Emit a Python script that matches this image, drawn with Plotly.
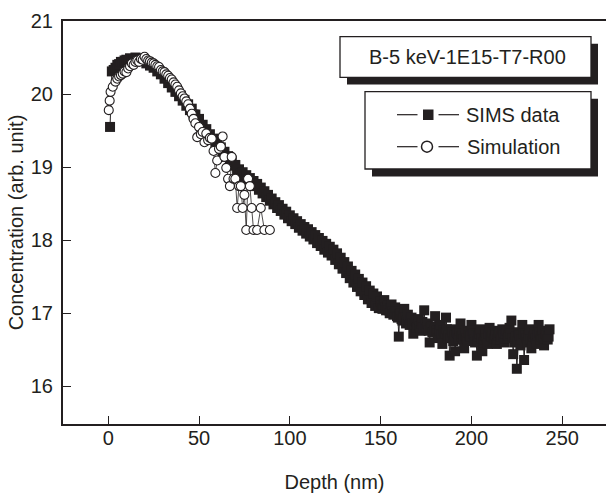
import plotly.graph_objects as go

W, H = 606, 499
ML, MR, MT, MB = 63, 0, 21, 75
INK = "#231f20"
FONT = "Liberation Sans, Arial, Helvetica, sans-serif"

# ---------------- data ----------------
# SIMS profile sampled every 1 nm from 1 nm to 243 nm
sims_depth = list(range(1, 244))
sims_conc = [
    19.55, 20.31, 20.33, 20.36, 20.40, 20.41, 20.44, 20.44, 20.46, 20.47,   # 1-10
    20.46, 20.49, 20.48, 20.48, 20.50, 20.49, 20.48, 20.47, 20.47, 20.46,   # 11-20
    20.42, 20.44, 20.39, 20.40, 20.36, 20.37, 20.31, 20.32, 20.27, 20.28,   # 21-30
    20.21, 20.22, 20.15, 20.16, 20.09, 20.10, 20.03, 20.04, 19.97, 19.98,   # 31-40
    19.91, 19.92, 19.84, 19.86, 19.78, 19.80, 19.72, 19.72, 19.64, 19.66,   # 41-50
    19.57, 19.58, 19.50, 19.52, 19.44, 19.45, 19.38, 19.39, 19.32, 19.33,   # 51-60
    19.26, 19.27, 19.19, 19.21, 19.14, 19.15, 19.07, 19.09, 19.02, 19.03,   # 61-70
    18.95, 18.97, 18.91, 18.93, 18.86, 18.89, 18.83, 18.85, 18.78, 18.81,   # 71-80
    18.74, 18.77, 18.69, 18.72, 18.64, 18.67, 18.59, 18.62, 18.54, 18.57,   # 81-90
    18.49, 18.52, 18.44, 18.48, 18.40, 18.43, 18.35, 18.39, 18.30, 18.34,   # 91-100
    18.26, 18.30, 18.22, 18.26, 18.17, 18.22, 18.13, 18.18, 18.09, 18.15,   # 101-110
    18.05, 18.11, 18.01, 18.07, 17.96, 18.03, 17.92, 17.99, 17.87, 17.95,   # 111-120
    17.83, 17.91, 17.79, 17.87, 17.73, 17.82, 17.67, 17.76, 17.61, 17.70,   # 121-130
    17.55, 17.64, 17.48, 17.58, 17.42, 17.53, 17.36, 17.47, 17.30, 17.42,   # 131-140
    17.25, 17.37, 17.19, 17.31, 17.14, 17.27, 17.10, 17.23, 17.07, 17.16,   # 141-150
    17.06, 17.18, 17.04, 17.10, 17.00, 17.12, 16.98, 17.08, 16.96, 16.68,   # 151-160
    17.00, 16.90, 17.06, 16.86, 16.98, 16.84, 16.94, 16.72, 16.90, 16.80,   # 161-170
    16.92, 16.76, 16.88, 17.04, 16.78, 16.86, 16.60, 16.82, 16.74, 16.96,   # 171-180
    16.76, 16.66, 16.84, 16.58, 16.74, 16.94, 16.66, 16.42, 16.78, 16.62,   # 181-190
    16.48, 16.74, 16.66, 16.86, 16.72, 16.52, 16.76, 16.62, 16.70, 16.84,   # 191-200
    16.72, 16.60, 16.42, 16.68, 16.78, 16.48, 16.64, 16.74, 16.58, 16.80,   # 201-210
    16.68, 16.62, 16.76, 16.58, 16.70, 16.64, 16.78, 16.60, 16.72, 16.66,   # 211-220
    16.80, 16.90, 16.44, 16.66, 16.24, 16.74, 16.56, 16.84, 16.36, 16.70,   # 221-230
    16.60, 16.78, 16.52, 16.68, 16.74, 16.58, 16.84, 16.64, 16.76, 16.56,   # 231-240
    16.72, 16.64, 16.78,                                                    # 241-243
]
# extra SIMS samples at half-nm depths in the background region (150.5-242.5 nm)
sims_depth_half = [150.5 + i for i in range(93)]
sims_conc_half = [
    17.10, 17.12, 17.08, 17.06, 17.04, 17.06, 17.02, 17.00, 17.02, 16.94,   # 150.5-159.5
    16.98, 16.92, 16.96, 16.94, 16.90, 16.88, 16.92, 16.86, 16.84, 16.88,   # 160.5-169.5
    16.84, 16.82, 16.86, 16.80, 16.84, 16.80, 16.76, 16.80, 16.74, 16.78,   # 170.5-179.5
    16.80, 16.72, 16.76, 16.70, 16.76, 16.72, 16.78, 16.70, 16.66, 16.74,   # 180.5-189.5
    16.70, 16.64, 16.72, 16.76, 16.68, 16.64, 16.70, 16.66, 16.74, 16.68,   # 190.5-199.5
    16.76, 16.64, 16.70, 16.62, 16.72, 16.66, 16.60, 16.70, 16.66, 16.72,   # 200.5-209.5
    16.70, 16.74, 16.66, 16.70, 16.64, 16.74, 16.68, 16.70, 16.66, 16.76,   # 210.5-219.5
    16.70, 16.72, 16.66, 16.60, 16.68, 16.62, 16.70, 16.64, 16.72, 16.62,   # 220.5-229.5
    16.66, 16.70, 16.64, 16.62, 16.72, 16.66, 16.70, 16.74, 16.68, 16.64,   # 230.5-239.5
    16.66, 16.70, 16.68,                                                    # 240.5-242.5
]

sim_depth = [
    0.3, 0.8, 1.3, 2.5,
    4, 5, 6, 7, 8, 9, 10, 11, 12, 13,
    14, 15, 16, 17, 18, 19, 20, 21, 22, 23,
    24, 25, 26, 27, 28, 29, 30, 31, 32, 33,
    34, 35, 36, 37, 38, 39, 40, 41, 42, 43,
    44, 45, 46, 47, 48, 49, 50, 51, 52, 53,
    54, 55, 56, 57, 58, 59, 60, 61, 62, 63,
    64, 65, 66, 67, 68, 69, 70, 71, 72, 73,
    74, 75, 76, 77, 78, 79, 80, 82, 84, 86,
    89,
]
sim_conc = [
    19.78, 19.91, 20.03, 20.10,
    20.17, 20.21, 20.24, 20.26, 20.28, 20.31, 20.30, 20.35, 20.38, 20.42,
    20.40, 20.44, 20.46, 20.44, 20.48, 20.47, 20.51, 20.48, 20.46, 20.45,
    20.43, 20.42, 20.40, 20.38, 20.37, 20.33, 20.31, 20.30, 20.27, 20.25,
    20.22, 20.20, 20.16, 20.13, 20.10, 20.05, 20.01, 19.97, 19.94, 19.90,
    19.86, 19.80, 19.73, 19.66, 19.60, 19.41, 19.55, 19.45, 19.48, 19.34,
    19.46, 19.37, 19.40, 19.39, 19.22, 18.92, 19.09, 19.25, 19.28, 19.42,
    19.14, 18.99, 18.84, 18.74, 19.14, 18.84, 18.84, 18.44, 18.74, 18.74,
    18.44, 18.62, 18.14, 18.84, 18.74, 18.44, 18.14, 18.14, 18.44, 18.14,
    18.14,
]

x_ticks = [0, 50, 100, 150, 200, 250]
y_ticks = [16, 17, 18, 19, 20, 21]
x_range = [-24.9, 274.1]
y_range = [15.484, 21.0]

legend_title = "B-5 keV-1E15-T7-R00"
series_names = ["SIMS data", "Simulation"]

# merge SIMS samples into one depth-ordered series
sims_pts = sorted(zip(sims_depth + sims_depth_half, sims_conc + sims_conc_half))
sims_x = [p[0] for p in sims_pts]
sims_y = [p[1] for p in sims_pts]

# ---------------- figure ----------------
fig = go.Figure()
fig.add_trace(go.Scatter(
    x=sims_x, y=sims_y, name=series_names[0], mode="lines+markers",
    line=dict(color=INK, width=1),
    marker=dict(symbol="square", size=10, color=INK, line=dict(width=0)),
    showlegend=False,
))
fig.add_trace(go.Scatter(
    x=sim_depth, y=sim_conc, name=series_names[1], mode="lines+markers",
    line=dict(color=INK, width=0.8),
    marker=dict(symbol="circle", size=9, color="white", line=dict(color=INK, width=1.1)),
    showlegend=False,
))

PW = W - ML - MR
PH = H - MT - MB


def px(xp):
    return (xp - ML) / PW


def py(yp):
    return (H - MB - yp) / PH


def rect(x0, y0, x1, y1, fill, lw=0):
    return dict(type="rect", xref="paper", yref="paper",
                x0=px(x0), x1=px(x1), y0=py(y1), y1=py(y0),
                fillcolor=fill, line=dict(color=INK, width=lw), layer="above")


shapes = [
    rect(347, 43.7, 598, 84.5, INK),
    rect(340, 36.7, 591, 77.3, "white", 1.3),
    rect(372, 98.7, 598, 176.5, INK),
    rect(365, 91.7, 591, 169.0, "white", 1.3),
]
for yy in (114.7, 146.7):
    for (a, b) in ((397, 417.5), (438.5, 459)):
        shapes.append(dict(type="line", xref="paper", yref="paper",
                           x0=px(a), x1=px(b), y0=py(yy), y1=py(yy),
                           line=dict(color=INK, width=1.2), layer="above"))
shapes.append(rect(423, 109.5, 433.5, 120, INK))
shapes.append(dict(type="circle", xref="paper", yref="paper",
                   x0=px(421.5), x1=px(432.5), y0=py(152.2), y1=py(141.2),
                   fillcolor="white", line=dict(color=INK, width=1.5), layer="above"))

annotations = [
    dict(text=legend_title, x=px(467.7), y=py(57), xref="paper", yref="paper",
         xanchor="center", yanchor="middle", showarrow=False,
         font=dict(size=20, color=INK, family=FONT)),
    dict(text=series_names[0], x=px(464), y=py(114.7), xref="paper", yref="paper",
         xanchor="left", yanchor="middle", showarrow=False,
         font=dict(size=20, color=INK, family=FONT)),
    dict(text=series_names[1], x=px(464.5), y=py(146.7), xref="paper", yref="paper",
         xanchor="left", yanchor="middle", showarrow=False,
         font=dict(size=20, color=INK, family=FONT)),
]

fig.update_layout(
    width=W, height=H,
    margin=dict(l=ML, r=MR, t=MT, b=MB, pad=0),
    paper_bgcolor="white", plot_bgcolor="white",
    font=dict(family=FONT, size=20, color=INK),
    shapes=shapes, annotations=annotations,
    showlegend=False,
)
fig.update_xaxes(
    range=x_range, tickvals=x_ticks, ticks="inside", ticklen=8, tickwidth=1,
    tickcolor=INK, showline=True, linewidth=2, linecolor=INK, mirror=True,
    showgrid=False, zeroline=False, automargin=False,
    ticklabelstandoff=-5,
    title=dict(text="Depth (nm)", standoff=27, font=dict(size=20)),
)
fig.update_yaxes(
    range=y_range, tickvals=y_ticks, ticks="inside", ticklen=8, tickwidth=1,
    tickcolor=INK, showline=True, linewidth=2, linecolor=INK,
    showgrid=False, zeroline=False, automargin=False,
    ticklabelstandoff=4,
    title=dict(text="Concentration (arb. unit)", standoff=2, font=dict(size=20)),
)

fig.write_html("out.html")
